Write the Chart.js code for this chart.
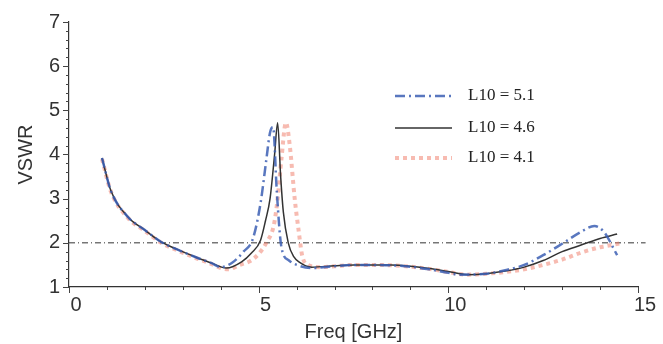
<!DOCTYPE html>
<html>

<head>
    <title>VSWR vs frequency</title>
    <script src="https://cdn.jsdelivr.net/npm/chart.js"></script>
    <style>
        body { margin: 0; background: #fff; }
        #wrap { width: 663px; height: 344px; }
    </style>
</head>

<body>
    <div id="wrap"><canvas id="chart" width="663" height="344"></canvas></div>
    <script>
        // values
        const legendLabels = ['L10 = 5.1', 'L10 = 4.6', 'L10 = 4.1'];
        const xTicks = [0, 5, 10, 15];
        const yTicks = [1, 2, 3, 4, 5, 6, 7];
        const refLevel = 2;

        const freqA = [0.87, 1.1, 1.56, 2.0, 2.43, 2.88, 3.33, 3.76, 4.0, 4.3, 4.6, 4.85, 5.05, 5.2, 5.3, 5.38, 5.48, 5.6, 5.8, 6.0, 6.4, 7, 7.5, 8, 8.5, 9, 9.5, 10, 10.3, 11, 11.5, 12, 12.5, 13, 13.5, 13.85, 14.1, 14.45];
        const vswrA = [3.92, 3.19, 2.58, 2.29, 2.02, 1.84, 1.68, 1.54, 1.45, 1.55, 1.8, 2.1, 2.9, 3.87, 4.5, 4.62, 3.13, 1.9, 1.6, 1.5, 1.43, 1.47, 1.5, 1.5, 1.49, 1.46, 1.4, 1.32, 1.28, 1.3, 1.38, 1.5, 1.72, 1.98, 2.25, 2.38, 2.25, 1.72];

        const freqB = [0.87, 1.1, 1.56, 2.0, 2.43, 2.88, 3.33, 3.76, 4.02, 4.15, 4.55, 4.81, 5.05, 5.18, 5.3, 5.42, 5.5, 5.58, 5.65, 5.78, 5.93, 6.06, 6.4, 7, 7.5, 8, 8.5, 9, 9.5, 10, 10.5, 11, 11.5, 12, 12.5, 13, 13.5, 14, 14.45];
        const vswrB = [3.92, 3.19, 2.58, 2.29, 2.02, 1.84, 1.68, 1.54, 1.45, 1.43, 1.57, 1.77, 2.06, 2.5, 3.0, 4.0, 4.72, 3.5, 2.7, 2.0, 1.68, 1.57, 1.45, 1.48, 1.5, 1.5, 1.5, 1.47, 1.42, 1.35, 1.28, 1.3, 1.36, 1.45, 1.6, 1.8, 1.95, 2.1, 2.2];

        const freqC = [0.87, 1.1, 1.56, 2.0, 2.43, 2.88, 3.33, 3.76, 4.0, 4.2, 4.5, 4.8, 5.0, 5.2, 5.4, 5.5, 5.6, 5.72, 5.82, 5.95, 6.05, 6.15, 6.3, 6.6, 7, 7.5, 8, 8.5, 9, 9.5, 10, 10.5, 11, 11.5, 12, 12.5, 13, 13.5, 14, 14.6];
        const vswrC = [3.9, 3.17, 2.56, 2.27, 2.0, 1.82, 1.66, 1.52, 1.43, 1.4, 1.5, 1.6, 1.75, 2.0, 2.4, 3.0, 3.9, 4.72, 4.2, 3.0, 2.3, 1.7, 1.5, 1.45, 1.47, 1.5, 1.5, 1.49, 1.46, 1.41, 1.34, 1.28, 1.3, 1.34, 1.4, 1.5, 1.62, 1.78, 1.9, 2.0];

        function pts(xs, ys) {
            return xs.map((x, i) => ({ x: x, y: ys[i] }));
        }

        // little ticks between the labelled ones + legend inside the plot
        const extras = {
            id: 'extras',
            afterDraw(chart) {
                const ctx = chart.ctx;
                const xs = chart.scales.x, ys = chart.scales.y;
                ctx.save();
                ctx.strokeStyle = '#444';
                ctx.lineWidth = 1;
                ctx.beginPath();
                for (let v = 1; v <= 7.001; v += 0.2) {
                    const p = Math.round(ys.getPixelForValue(v)) + 0.5;
                    const major = Math.abs(v - Math.round(v)) < 0.01;
                    ctx.moveTo(xs.left, p);
                    ctx.lineTo(xs.left - (major ? 6 : 3), p);
                }
                for (let f = 0; f <= 15; f += 1) {
                    const p = Math.round(xs.getPixelForValue(f)) + 0.5;
                    const major = f % 5 === 0;
                    ctx.moveTo(p, ys.bottom);
                    ctx.lineTo(p, ys.bottom + (major ? 6 : 3));
                }
                ctx.stroke();

                // legend
                const rows = [96, 128, 158];
                for (let i = 0; i < 3; i++) {
                    const ds = chart.data.datasets[i];
                    ctx.strokeStyle = ds.borderColor;
                    ctx.lineWidth = ds.borderWidth;
                    ctx.setLineDash(ds.borderDash || []);
                    ctx.beginPath();
                    ctx.moveTo(395, rows[i]);
                    ctx.lineTo(452, rows[i]);
                    ctx.stroke();
                    ctx.setLineDash([]);
                    ctx.fillStyle = '#222';
                    ctx.font = '17px "Liberation Serif"';
                    ctx.textBaseline = 'middle';
                    ctx.fillText(legendLabels[i], 468, rows[i]);
                }
                ctx.restore();
            }
        };

        const ctx = document.getElementById('chart');
        new Chart(ctx, {
            type: 'scatter',
            data: {
                datasets: [{
                    label: legendLabels[0],
                    data: pts(freqA, vswrA),
                    showLine: true,
                    borderColor: 'rgba(60,95,180,0.85)',
                    borderWidth: 2.5,
                    borderDash: [10, 4, 2, 4],
                    pointRadius: 0,
                    cubicInterpolationMode: 'monotone'
                }, {
                    label: legendLabels[1],
                    data: pts(freqB, vswrB),
                    showLine: true,
                    borderColor: '#333',
                    borderWidth: 1.5,
                    pointRadius: 0,
                    cubicInterpolationMode: 'monotone'
                }, {
                    label: legendLabels[2],
                    data: pts(freqC, vswrC),
                    showLine: true,
                    borderColor: 'rgba(240,120,100,0.5)',
                    borderWidth: 4,
                    borderDash: [4, 4],
                    pointRadius: 0,
                    cubicInterpolationMode: 'monotone'
                }, {
                    label: 'ref',
                    data: [{ x: 0, y: refLevel }, { x: 15.2, y: refLevel }],
                    showLine: true,
                    borderColor: '#333',
                    borderWidth: 1,
                    borderDash: [6, 3, 1, 3],
                    pointRadius: 0
                }]
            },
            plugins: [extras],
            options: {
                responsive: false,
                animation: false,
                clip: false,
                layout: { padding: { top: 22, right: 25, left: 0, bottom: 0 } },
                plugins: {
                    legend: { display: false },
                    tooltip: { enabled: false }
                },
                scales: {
                    x: {
                        type: 'linear',
                        min: 0,
                        max: 15,
                        afterBuildTicks: s => { s.ticks = xTicks.map(v => ({ value: v })); },
                        afterFit: s => { s.height = 57; },
                        grid: { display: false, drawTicks: false },
                        border: { color: '#333', width: 1.2 },
                        ticks: {
                            color: '#333',
                            font: { family: 'Liberation Sans', size: 20 },
                            padding: 6,
                            labelOffset: 7,
                            maxRotation: 0
                        },
                        title: {
                            display: true,
                            text: 'Freq [GHz]',
                            color: '#333',
                            font: { family: 'Liberation Sans', size: 20 },
                            padding: { top: -4, bottom: 0 }
                        }
                    },
                    y: {
                        type: 'linear',
                        min: 1,
                        max: 7,
                        afterBuildTicks: s => { s.ticks = yTicks.map(v => ({ value: v })); },
                        afterFit: s => { s.width = 69; },
                        grid: { display: false, drawTicks: false },
                        border: { color: '#333', width: 1.2 },
                        ticks: {
                            color: '#333',
                            font: { family: 'Liberation Sans', size: 20 },
                            padding: 9
                        },
                        title: {
                            display: true,
                            text: 'VSWR',
                            color: '#333',
                            font: { family: 'Liberation Sans', size: 20 },
                            padding: { top: 14, bottom: 0 }
                        }
                    }
                }
            }
        });
    </script>
</body>

</html>
